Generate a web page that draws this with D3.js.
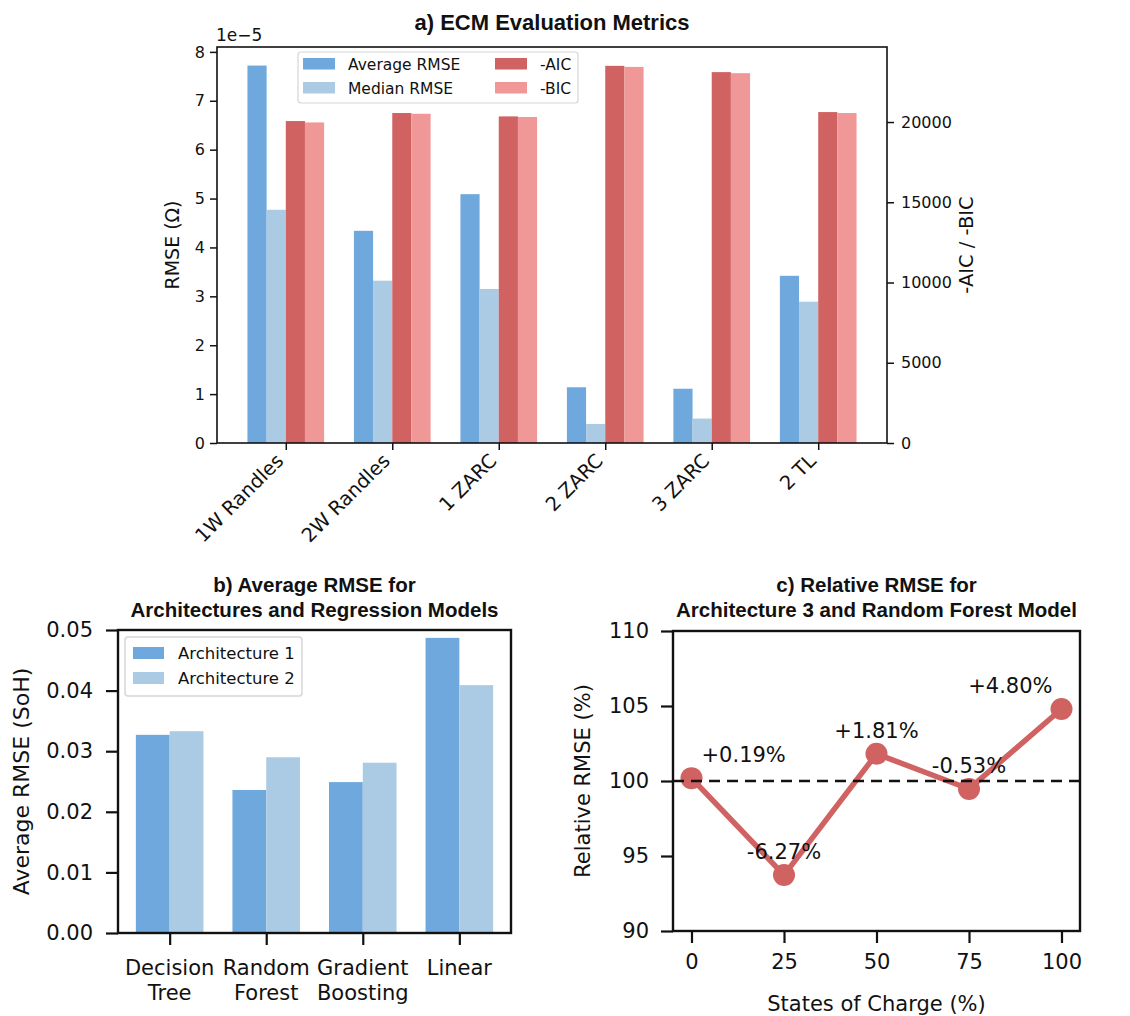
<!DOCTYPE html>
<html>
<head>
<meta charset="utf-8">
<script src="https://cdn.jsdelivr.net/npm/d3@7"></script>
<style>
  body { margin: 0; background: #fff; }
  text { font-family: "DejaVu Sans", sans-serif; fill: #111; }
  .title { font-family: "Liberation Sans", Arial, sans-serif; font-weight: bold; }
</style>
</head>
<body>
<script>
// a) ECM metrics
var ecmModels = ["1W Randles", "2W Randles", "1 ZARC", "2 ZARC", "3 ZARC", "2 TL"];
var avgRmse = [7.72e-5, 4.34e-5, 5.09e-5, 1.14e-5, 1.11e-5, 3.42e-5];
var medRmse = [4.77e-5, 3.32e-5, 3.15e-5, 0.39e-5, 0.50e-5, 2.89e-5];
var negAic = [20060, 20560, 20350, 23500, 23110, 20620];
var negBic = [19975, 20515, 20310, 23435, 23045, 20560];
var rmseTicks = [0, 1, 2, 3, 4, 5, 6, 7, 8];
var icTicks = [0, 5000, 10000, 15000, 20000];

// b) regression models
var regModels = [["Decision", "Tree"], ["Random", "Forest"], ["Gradient", "Boosting"], ["Linear"]];
var arch1 = [0.0327, 0.0236, 0.0249, 0.0487];
var arch2 = [0.0333, 0.0290, 0.0281, 0.0409];
var bTicks = [0, 0.01, 0.02, 0.03, 0.04, 0.05];

// c) relative RMSE
var soc = [0, 25, 50, 75, 100];
var relRmse = [100.19, 93.73, 101.81, 99.47, 104.80];
var relLabels = ["+0.19%", "-6.27%", "+1.81%", "-0.53%", "+4.80%"];
var cYTicks = [90, 95, 100, 105, 110];

var blue = "#6fa8dc", lightBlue = "#abcbe4", red = "#d06262", pink = "#f09898";

var svg = d3.select("body").append("svg")
    .attr("width", 1130)
    .attr("height", 1016);

function frame(g, l, r, t, b, w) {
  g.append("rect")
    .attr("x", l).attr("y", t)
    .attr("width", r - l).attr("height", b - t)
    .attr("fill", "none").attr("stroke", "#111").attr("stroke-width", w);
}

// ---------- panel a ----------
var A = {l: 217, r: 887, t: 47, b: 443};
var ga = svg.append("g");
var xa = d3.scaleLinear().domain([-0.646, 5.646]).range([A.l, A.r]);
var ya = d3.scaleLinear().domain([0, 8.1e-5]).range([A.b, A.t]);
var ya2 = d3.scaleLinear().domain([0, 24675]).range([A.b, A.t]);
var bw = 0.18;

var seriesA = [
  {vals: avgRmse, col: blue, sc: ya},
  {vals: medRmse, col: lightBlue, sc: ya},
  {vals: negAic, col: red, sc: ya2},
  {vals: negBic, col: pink, sc: ya2}
];
seriesA.forEach(function(s, k) {
  ga.selectAll(null).data(s.vals).enter().append("rect")
    .attr("x", function(d, i) { return xa(i + (k - 2) * bw); })
    .attr("width", xa(bw) - xa(0))
    .attr("y", function(d) { return s.sc(d); })
    .attr("height", function(d) { return A.b - s.sc(d); })
    .attr("fill", s.col);
});

var axLeftA = ga.append("g").attr("transform", "translate(" + A.l + ",0)")
  .call(d3.axisLeft(ya).tickValues(rmseTicks.map(function(v) { return v * 1e-5; }))
    .tickFormat(function(v) { return Math.round(v / 1e-5); }).tickSize(7).tickPadding(5));
var axRightA = ga.append("g").attr("transform", "translate(" + A.r + ",0)")
  .call(d3.axisRight(ya2).tickValues(icTicks).tickFormat(d3.format("d")).tickSize(7).tickPadding(7));
var axBotA = ga.append("g").attr("transform", "translate(0," + A.b + ")")
  .call(d3.axisBottom(xa).tickValues(d3.range(ecmModels.length)).tickFormat("").tickSize(7));
[axLeftA, axRightA, axBotA].forEach(function(a) {
  a.select(".domain").remove();
  a.selectAll("line").attr("stroke", "#111").attr("stroke-width", 1.5);
  a.selectAll("text").style("font-size", "16px").attr("fill", "#111");
});
ga.selectAll(null).data(ecmModels).enter().append("text")
  .attr("transform", function(d, i) { return "translate(" + (xa(i) - 1) + "," + (A.b + 19) + ") rotate(-45)"; })
  .attr("text-anchor", "end")
  .style("font-size", "19.5px")
  .text(function(d) { return d; });
frame(ga, A.l, A.r, A.t, A.b, 1.6);

ga.append("text").attr("x", A.l - 1).attr("y", 41).style("font-size", "17px").text("1e\u22125");
ga.append("text").attr("class", "title").attr("x", (A.l + A.r) / 2).attr("y", 30)
  .attr("text-anchor", "middle").style("font-size", "22px").text("a) ECM Evaluation Metrics");
ga.append("text").attr("transform", "translate(179," + (A.t + A.b) / 2 + ") rotate(-90)")
  .attr("text-anchor", "middle").style("font-size", "19px").text("RMSE (\u03a9)");
ga.append("text").attr("transform", "translate(973," + (A.t + A.b) / 2 + ") rotate(-90)")
  .attr("text-anchor", "middle").style("font-size", "19.5px").text("-AIC / -BIC");

// legend a
var legA = ga.append("g");
legA.append("rect").attr("x", 298).attr("y", 52).attr("width", 280).attr("height", 51)
  .attr("rx", 3).attr("fill", "#fff").attr("fill-opacity", 0.8).attr("stroke", "#d6d6d6").attr("stroke-width", 1.2);
var legItemsA = [
  {name: "Average RMSE", col: blue, x: 303, y: 64},
  {name: "Median RMSE", col: lightBlue, x: 303, y: 88},
  {name: "-AIC", col: red, x: 495, y: 64},
  {name: "-BIC", col: pink, x: 495, y: 88}
];
legItemsA.forEach(function(d) {
  legA.append("rect").attr("x", d.x).attr("y", d.y - 6).attr("width", 32).attr("height", 11.5).attr("fill", d.col);
  legA.append("text").attr("x", d.x + 45).attr("y", d.y + 5.5).style("font-size", "15.5px").text(d.name);
});

// ---------- panel b ----------
var B = {l: 118, r: 511, t: 630, b: 933};
var gb = svg.append("g");
var xb = d3.scaleLinear().domain([-0.535, 3.535]).range([B.l, B.r]);
var yb = d3.scaleLinear().domain([0, 0.05]).range([B.b, B.t]);
var bw2 = 0.35;
[{vals: arch1, col: blue, off: -1}, {vals: arch2, col: lightBlue, off: 0}].forEach(function(s) {
  gb.selectAll(null).data(s.vals).enter().append("rect")
    .attr("x", function(d, i) { return xb(i + s.off * bw2); })
    .attr("width", xb(bw2) - xb(0))
    .attr("y", function(d) { return yb(d); })
    .attr("height", function(d) { return B.b - yb(d); })
    .attr("fill", s.col);
});
var axLeftB = gb.append("g").attr("transform", "translate(" + B.l + ",0)")
  .call(d3.axisLeft(yb).tickValues(bTicks).tickFormat(d3.format(".2f")).tickSize(12).tickPadding(13));
var axBotB = gb.append("g").attr("transform", "translate(0," + B.b + ")")
  .call(d3.axisBottom(xb).tickValues(d3.range(regModels.length)).tickFormat("").tickSize(12));
[axLeftB, axBotB].forEach(function(a) {
  a.select(".domain").remove();
  a.selectAll("line").attr("stroke", "#111").attr("stroke-width", 2.2);
  a.selectAll("text").style("font-size", "21px").attr("fill", "#111");
});
regModels.forEach(function(lines, i) {
  var t = gb.append("text").attr("text-anchor", "middle").style("font-size", "21px");
  lines.forEach(function(s, j) {
    t.append("tspan").attr("x", xb(i)).attr("y", 975 + j * 25).text(s);
  });
});
frame(gb, B.l, B.r, B.t, B.b, 2.4);
var tb = gb.append("text").attr("class", "title").attr("text-anchor", "middle").style("font-size", "20.5px");
tb.append("tspan").attr("x", (B.l + B.r) / 2).attr("y", 592).text("b) Average RMSE for");
tb.append("tspan").attr("x", (B.l + B.r) / 2).attr("y", 617).text("Architectures and Regression Models");
gb.append("text").attr("transform", "translate(29," + (B.t + B.b) / 2 + ") rotate(-90)")
  .attr("text-anchor", "middle").style("font-size", "22px").text("Average RMSE (SoH)");

var legB = gb.append("g");
legB.append("rect").attr("x", 125).attr("y", 637).attr("width", 177).attr("height", 59)
  .attr("rx", 3).attr("fill", "#fff").attr("fill-opacity", 0.8).attr("stroke", "#d6d6d6").attr("stroke-width", 1.5);
[{name: "Architecture 1", col: blue, y: 653}, {name: "Architecture 2", col: lightBlue, y: 678}].forEach(function(d) {
  legB.append("rect").attr("x", 133).attr("y", d.y - 6).attr("width", 31).attr("height", 12).attr("fill", d.col);
  legB.append("text").attr("x", 178).attr("y", d.y + 6).style("font-size", "16.5px").text(d.name);
});

// ---------- panel c ----------
var C = {l: 673, r: 1080, t: 631, b: 931};
var gc = svg.append("g");
var xc = d3.scaleLinear().domain([-5, 105]).range([C.l, C.r]);
var yc = d3.scaleLinear().domain([90, 110]).range([C.b, C.t]);
var pts = soc.map(function(s, i) { return [s, relRmse[i]]; });

gc.append("path").datum(pts)
  .attr("d", d3.line().x(function(d) { return xc(d[0]); }).y(function(d) { return yc(d[1]); }))
  .attr("fill", "none").attr("stroke", red).attr("stroke-width", 5.5);
gc.selectAll(null).data(pts).enter().append("circle")
  .attr("cx", function(d) { return xc(d[0]); })
  .attr("cy", function(d) { return yc(d[1]); })
  .attr("r", 11).attr("fill", red);
gc.append("line").attr("x1", C.l).attr("x2", C.r).attr("y1", yc(100)).attr("y2", yc(100))
  .attr("stroke", "#111").attr("stroke-width", 2.6).attr("stroke-dasharray", "11,7");
gc.selectAll(null).data(pts).enter().append("text")
  .attr("x", function(d, i) { return xc(d[0]) + (i === 0 ? 10 : i === pts.length - 1 ? -9 : 0); })
  .attr("y", function(d) { return yc(d[1]) - 16; })
  .attr("text-anchor", function(d, i) { return i === 0 ? "start" : i === pts.length - 1 ? "end" : "middle"; })
  .style("font-size", "21px")
  .text(function(d, i) { return relLabels[i]; });

var axLeftC = gc.append("g").attr("transform", "translate(" + C.l + ",0)")
  .call(d3.axisLeft(yc).tickValues(cYTicks).tickSize(12).tickPadding(12));
var axBotC = gc.append("g").attr("transform", "translate(0," + C.b + ")")
  .call(d3.axisBottom(xc).tickValues(soc).tickSize(12).tickPadding(11));
[axLeftC, axBotC].forEach(function(a) {
  a.select(".domain").remove();
  a.selectAll("line").attr("stroke", "#111").attr("stroke-width", 2.2);
  a.selectAll("text").style("font-size", "21px").attr("fill", "#111");
});
frame(gc, C.l, C.r, C.t, C.b, 2.4);
var tc = gc.append("text").attr("class", "title").attr("text-anchor", "middle").style("font-size", "20.5px");
tc.append("tspan").attr("x", (C.l + C.r) / 2).attr("y", 592).text("c) Relative RMSE for");
tc.append("tspan").attr("x", (C.l + C.r) / 2).attr("y", 617).text("Architecture 3 and Random Forest Model");
gc.append("text").attr("transform", "translate(590," + (C.t + C.b) / 2 + ") rotate(-90)")
  .attr("text-anchor", "middle").style("font-size", "21px").text("Relative RMSE (%)");
gc.append("text").attr("x", (C.l + C.r) / 2).attr("y", 1011)
  .attr("text-anchor", "middle").style("font-size", "21px").text("States of Charge (%)");
</script>
</body>
</html>
